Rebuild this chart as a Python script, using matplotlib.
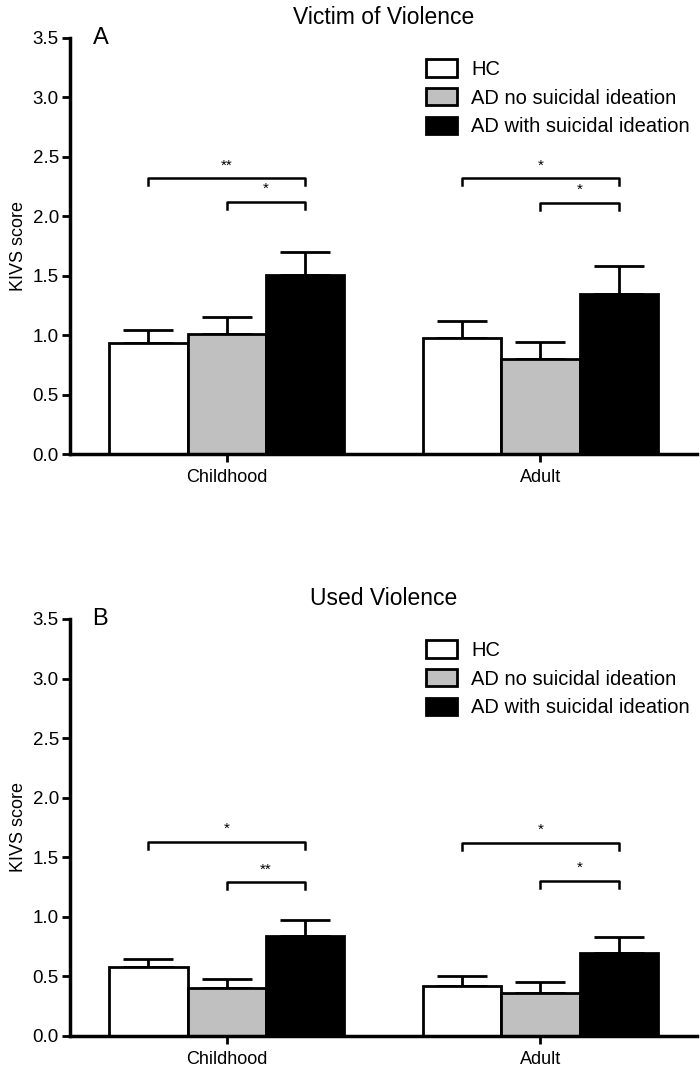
import matplotlib.pyplot as plt
import numpy as np

plt.rcParams['font.family'] = ['Liberation Sans', 'DejaVu Sans']

groups = ['HC', 'AD no suicidal ideation', 'AD with suicidal ideation']
colors = ['white', '#c0c0c0', 'black']
periods = ['Childhood', 'Adult']

# panel A: victim of violence (mean, SEM), per group: [Childhood, Adult]
victim_mean = [[0.93, 0.98], [1.01, 0.80], [1.51, 1.35]]
victim_err = [[0.11, 0.14], [0.14, 0.14], [0.19, 0.23]]
victim_sig = [('**', 2.32, '*', 2.12), ('*', 2.32, '*', 2.11)]

# panel B: used violence
used_mean = [[0.58, 0.42], [0.40, 0.36], [0.84, 0.70]]
used_err = [[0.07, 0.08], [0.08, 0.09], [0.13, 0.13]]
used_sig = [('*', 1.63, '**', 1.29), ('*', 1.62, '*', 1.30)]


def bracket(ax, x1, x2, y, label):
    h = 0.06
    ax.plot([x1, x1, x2, x2], [y - h, y, y, y - h], color='black', lw=1.8)
    ax.text((x1 + x2) / 2, y + 0.05, label, ha='center', va='bottom', fontsize=11)


def panel(ax, means, errs, sig, title, letter):
    centers = np.array([0, 4])
    for i, g in enumerate(groups):
        x = centers + (i - 1)
        ax.bar(x, means[i], width=1.0, color=colors[i], edgecolor='black',
               linewidth=2, label=g, zorder=2)
        ax.errorbar(x, means[i], yerr=[np.zeros(len(x)), errs[i]], fmt='none',
                    ecolor='black', elinewidth=2, capsize=18, capthick=2, zorder=1)
    for c, (l1, y1, l2, y2) in zip(centers, sig):
        bracket(ax, c - 1, c + 1, y1, l1)
        bracket(ax, c, c + 1, y2, l2)

    ax.set_xlim(-2, 6)
    ax.set_ylim(0, 3.5)
    ax.set_yticks(np.arange(0, 3.51, 0.5))
    ax.set_yticklabels([f'{v:.1f}' for v in np.arange(0, 3.51, 0.5)])
    ax.set_xticks(centers)
    ax.set_xticklabels(periods)
    ax.spines['top'].set_visible(False)
    ax.spines['right'].set_visible(False)
    ax.spines['left'].set_linewidth(2.5)
    ax.spines['bottom'].set_linewidth(2.5)
    ax.tick_params(axis='y', direction='out', length=6, width=2, labelsize=13.5, pad=2)
    ax.tick_params(axis='x', direction='out', length=6, width=2, labelsize=13, pad=5)
    ax.set_ylabel('KIVS score', fontsize=13, labelpad=4)
    ax.set_title(title, fontsize=16.5, pad=10)
    ax.text(0.036, 1.0, letter, transform=ax.transAxes, fontsize=17,
            ha='left', va='center')
    ax.legend(loc='upper left', bbox_to_anchor=(0.555, 0.968), frameon=False,
              fontsize=14.5, handlelength=1.55, handleheight=0.95,
              labelspacing=0.45, handletextpad=0.7, borderaxespad=0)


fig = plt.figure(figsize=(7, 10.7), dpi=100)
ax1 = fig.add_axes([0.1, 0.5757, 0.896, 0.3888])
ax2 = fig.add_axes([0.1, 0.0318, 0.896, 0.3897])
panel(ax1, victim_mean, victim_err, victim_sig, 'Victim of Violence', 'A')
panel(ax2, used_mean, used_err, used_sig, 'Used Violence', 'B')

fig.savefig('out.png', dpi=100)
